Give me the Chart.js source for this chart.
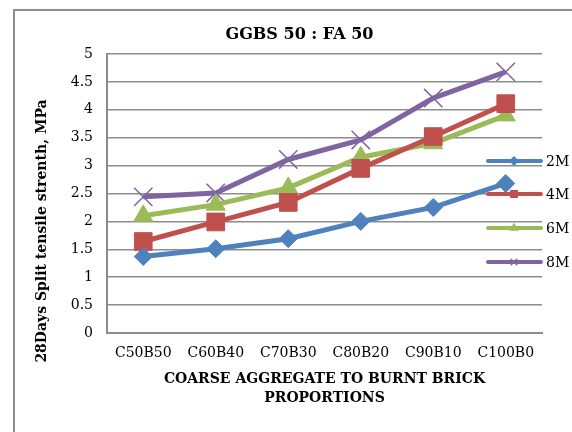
<!DOCTYPE html>
<html>
<head>
<meta charset="utf-8">
<script src="https://cdn.jsdelivr.net/npm/chart.js@4"></script>
<style>
  html, body { margin: 0; padding: 0; background: #fff; overflow: hidden; }
  #wrap { position: relative; width: 572px; height: 432px; }
  #frame { position: absolute; left: 13px; top: 9px; width: 600px; height: 500px; border: 2px solid #8c8c8c; box-sizing: border-box; }
  canvas { position: absolute; left: 0; top: 0; }
</style>
</head>
<body>
<div id="wrap">
  <div id="frame"></div>
  <canvas id="chart" width="572" height="432"></canvas>
</div>
<script>
const categories = ["C50B50", "C60B40", "C70B30", "C80B20", "C90B10", "C100B0"];
const series2M = [1.37, 1.51, 1.69, 2.0, 2.25, 2.68];
const series4M = [1.64, 1.99, 2.34, 2.95, 3.52, 4.11];
const series6M = [2.1, 2.3, 2.6, 3.15, 3.4, 3.9];
const series8M = [2.44, 2.51, 3.11, 3.46, 4.21, 4.68];
const seriesNames = ["2M", "4M", "6M", "8M"];

const gridColor = "#8c8c8c";
const serif = "'DejaVu Serif', serif";

// legend + y title drawn by hand so the plot keeps its full width
const extras = {
  id: "extras",
  afterDatasetsDraw(chart) {
    const ctx = chart.ctx;
    ctx.save();
    const legendY = [161, 194, 228, 262];
    chart.data.datasets.forEach((ds, i) => {
      const y = legendY[i];
      ctx.strokeStyle = ds.borderColor;
      ctx.fillStyle = ds.borderColor;
      ctx.lineWidth = 4;
      ctx.lineCap = "round";
      ctx.beginPath();
      ctx.moveTo(488, y);
      ctx.lineTo(541, y);
      ctx.stroke();
      ctx.lineWidth = 1.5;
      Chart.helpers.drawPoint(ctx, {
        pointStyle: ds.pointStyle,
        radius: ds.legendRadius,
        borderWidth: 1.5
      }, 514, y);
      ctx.fillStyle = "#000";
      ctx.font = "14px " + serif;
      ctx.textAlign = "left";
      ctx.textBaseline = "middle";
      ctx.fillText(ds.label, 546, y + 1);
    });
    ctx.translate(42, 231);
    ctx.rotate(-Math.PI / 2);
    ctx.font = "bold 14px " + serif;
    ctx.textAlign = "center";
    ctx.textBaseline = "middle";
    ctx.fillStyle = "#000";
    ctx.fillText("28Days Split tensile strenth, MPa", 0, 0);
    ctx.restore();
  }
};

function makeSet(label, data, color, style, radius, legendRadius, pbw) {
  return {
    label: label,
    data: data,
    borderColor: color,
    backgroundColor: color,
    borderWidth: 5,
    pointStyle: style,
    pointRadius: radius,
    pointBackgroundColor: color,
    pointBorderColor: color,
    pointBorderWidth: pbw,
    legendRadius: legendRadius,
    tension: 0
  };
}

new Chart(document.getElementById("chart"), {
  type: "line",
  data: {
    labels: categories,
    datasets: [
      makeSet(seriesNames[0], series2M, "#4f81bd", "rectRot", 9, 4, 1),
      makeSet(seriesNames[1], series4M, "#c0504d", "rect", 12.5, 4.5, 1),
      makeSet(seriesNames[2], series6M, "#9bbb59", "triangle", 11, 4, 1),
      makeSet(seriesNames[3], series8M, "#8064a2", "crossRot", 13, 4, 1.5)
    ]
  },
  options: {
    responsive: false,
    animation: false,
    devicePixelRatio: 1,
    layout: { padding: { left: 57, right: 30, top: 0, bottom: 0 } },
    plugins: {
      legend: { display: false },
      tooltip: { enabled: false },
      title: {
        display: true,
        text: "GGBS 50 : FA 50",
        color: "#000",
        font: { family: serif, size: 16, weight: "bold", lineHeight: 1.2 },
        padding: { top: 25.4, bottom: 9.4 }
      }
    },
    scales: {
      x: {
        offset: true,
        grid: { display: false, drawTicks: false },
        border: { color: gridColor, width: 2 },
        ticks: { color: "#000", font: { family: serif, size: 14 }, padding: 12, maxRotation: 0, autoSkip: false },
        title: {
          display: true,
          text: ["COARSE AGGREGATE TO BURNT BRICK", "PROPORTIONS"],
          color: "#000",
          font: { family: serif, size: 14, weight: "bold", lineHeight: 1.3 },
          padding: { top: 0, bottom: 25 }
        },
        afterFit(scale) { scale.height = 99; }
      },
      y: {
        min: 0,
        max: 5,
        grid: { color: gridColor, lineWidth: 1.5, drawTicks: false },
        border: { color: gridColor, width: 2 },
        ticks: {
          stepSize: 0.5,
          color: "#000",
          font: { family: serif, size: 14 },
          padding: 14,
          callback: v => String(v)
        },
        afterFit(scale) { scale.width = 50; }
      }
    }
  },
  plugins: [extras]
});
</script>
</body>
</html>
